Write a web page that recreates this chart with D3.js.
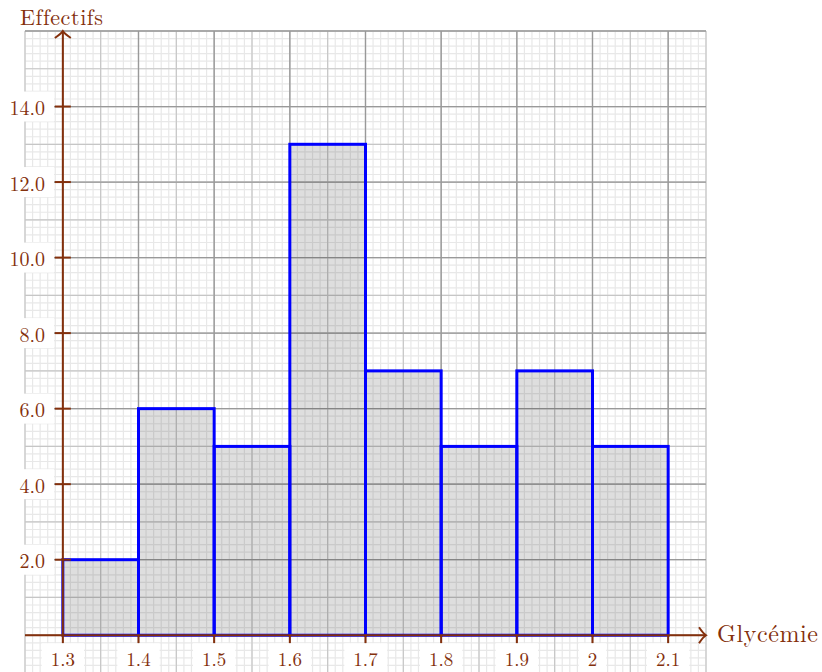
<!DOCTYPE html>
<html>
<head>
<meta charset="utf-8">
<script src="https://cdn.jsdelivr.net/npm/d3@7"></script>
<style>
  body { margin: 0; background: #fff; }
  text { font-family: "Latin Modern Roman", "CMU Serif", "Liberation Serif", serif; }
</style>
</head>
<body>
<script>
const width = 822
const height = 672
const brown = "#84300c"

// data: class bounds and counts
const binStarts = [1.3, 1.4, 1.5, 1.6, 1.7, 1.8, 1.9, 2.0]
const binEnds = [1.4, 1.5, 1.6, 1.7, 1.8, 1.9, 2.0, 2.1]
const counts = [2, 6, 5, 13, 7, 5, 7, 5]
const xTicks = [1.3, 1.4, 1.5, 1.6, 1.7, 1.8, 1.9, 2.0, 2.1]
const xTickLabels = ["1.3", "1.4", "1.5", "1.6", "1.7", "1.8", "1.9", "2", "2.1"]
const yTicks = [2, 4, 6, 8, 10, 12, 14]
const yTickLabels = ["2.0", "4.0", "6.0", "8.0", "10.0", "12.0", "14.0"]

const bins = binStarts.map((x0, i) => ({x0: x0, x1: binEnds[i], n: counts[i]}))

// scales (grid window goes from 1.25 to 2.15 and -1 to 16)
x = d3.scaleLinear().domain([1.25, 2.15]).range([25, 706])
y = d3.scaleLinear().domain([-1, 16]).range([673, 31])

const svg = d3.select("body").append("svg")
    .attr("width", width)
    .attr("height", height)

// graph paper: fine, medium, major lines
const grid = svg.append("g")
function vlines(step, color, w) {
  const n = Math.round(0.9 / step)
  grid.append("g").selectAll("line")
    .data(d3.range(n + 1).map(i => 1.25 + i * step))
    .join("line")
      .attr("x1", d => x(d)).attr("x2", d => x(d))
      .attr("y1", y(16)).attr("y2", y(-1))
      .attr("stroke", color).attr("stroke-width", w)
}
function hlines(step, color, w) {
  const n = Math.round(17 / step)
  grid.append("g").selectAll("line")
    .data(d3.range(n + 1).map(i => -1 + i * step))
    .join("line")
      .attr("x1", x(1.25)).attr("x2", x(2.15))
      .attr("y1", d => y(d)).attr("y2", d => y(d))
      .attr("stroke", color).attr("stroke-width", w)
}
vlines(0.01, "#e8e8e8", 1.2)
hlines(0.2, "#e8e8e8", 1.2)
vlines(0.05, "#c6c6c6", 1.2)
hlines(1, "#c6c6c6", 1.2)
grid.append("g").selectAll("line")
  .data(d3.range(0, 9).map(i => 1.3 + i * 0.1))
  .join("line")
    .attr("x1", d => x(d)).attr("x2", d => x(d))
    .attr("y1", y(16)).attr("y2", y(-1))
    .attr("stroke", "#999").attr("stroke-width", 1.3)
grid.append("g").selectAll("line")
  .data(d3.range(0, 9).map(i => i * 2))
  .join("line")
    .attr("x1", x(1.25)).attr("x2", x(2.15))
    .attr("y1", d => y(d)).attr("y2", d => y(d))
    .attr("stroke", "#999").attr("stroke-width", 1.3)

// histogram bars
svg.append("g")
  .selectAll("rect")
  .data(bins)
  .join("rect")
    .attr("x", d => x(d.x0))
    .attr("y", d => y(d.n))
    .attr("width", d => x(d.x1) - x(d.x0))
    .attr("height", d => y(0) - y(d.n))
    .attr("fill", "#000").attr("fill-opacity", 0.13)
    .attr("stroke", "#0000ff").attr("stroke-width", 3)

// axes
const axes = svg.append("g").attr("stroke", brown).attr("stroke-width", 2).attr("fill", "none")
axes.append("line")
    .attr("x1", x(1.25)).attr("x2", x(2.15))
    .attr("y1", y(0)).attr("y2", y(0))
axes.append("line")
    .attr("x1", x(1.3)).attr("x2", x(1.3))
    .attr("y1", y(0)).attr("y2", y(16))
axes.append("path")
    .attr("d", `M${x(2.15) - 7},${y(0) - 8} Q${x(2.15) - 3},${y(0) - 2} ${x(2.15)},${y(0)} Q${x(2.15) - 3},${y(0) + 2} ${x(2.15) - 7},${y(0) + 8}`)
axes.append("path")
    .attr("d", `M${x(1.3) - 8},${y(16) + 7} Q${x(1.3) - 2},${y(16) + 3} ${x(1.3)},${y(16)} Q${x(1.3) + 2},${y(16) + 3} ${x(1.3) + 8},${y(16) + 7}`)

// tick marks
axes.append("g").selectAll("line")
  .data(xTicks)
  .join("line")
    .attr("x1", d => x(d)).attr("x2", d => x(d))
    .attr("y1", y(0)).attr("y2", y(0) + 8)
axes.append("g").selectAll("line")
  .data(yTicks)
  .join("line")
    .attr("x1", x(1.3) - 8).attr("x2", x(1.3) + 8)
    .attr("y1", d => y(d)).attr("y2", d => y(d))

// tick labels on white boxes
function boxedLabel(g, tx, ty, str, anchor, size) {
  const t = g.append("text")
      .attr("x", tx).attr("y", ty)
      .attr("text-anchor", anchor)
      .attr("dominant-baseline", "central")
      .attr("font-size", size)
      .attr("fill", brown)
      .text(str)
  const b = t.node().getBBox()
  const top = ty - 15
  g.insert("rect", "text")
      .attr("x", b.x - 9).attr("y", top)
      .attr("width", b.width + 18).attr("height", Math.min(30, height - top))
      .attr("fill", "#fff")
}
const xl = svg.append("g")
xTicks.forEach((d, i) => boxedLabel(xl.append("g"), x(d), y(0) + 23, xTickLabels[i], "middle", 19))
const yl = svg.append("g")
yTicks.forEach((d, i) => boxedLabel(yl.append("g"), 45, y(d), yTickLabels[i], "end", 20))

// axis titles
svg.append("text")
    .attr("x", 20).attr("y", 25)
    .attr("font-size", 22).attr("fill", brown)
    .attr("letter-spacing", 0.6)
    .text("Effectifs")
svg.append("text")
    .attr("x", 717).attr("y", y(0) + 7)
    .attr("font-size", 24).attr("fill", brown)
    .attr("letter-spacing", 0.6)
    .text("Glycémie")
</script>
</body>
</html>
